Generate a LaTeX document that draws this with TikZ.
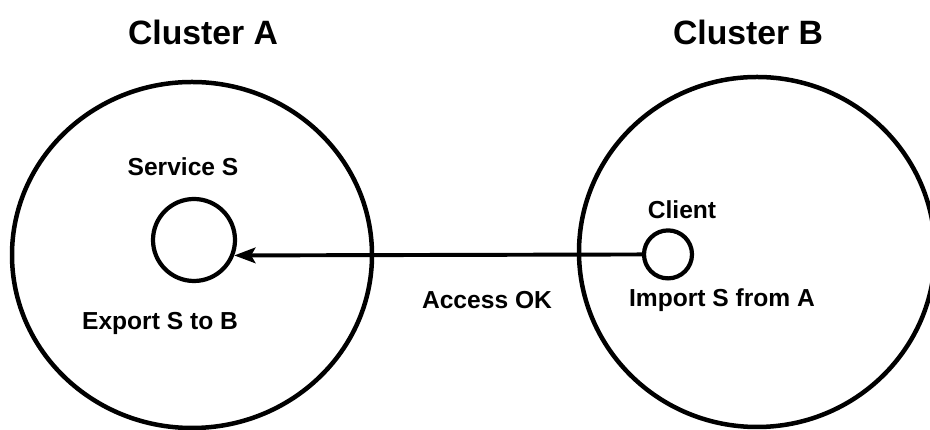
\documentclass[tikz,border=0pt]{standalone}
\usepackage{fontspec}
\setmainfont{Liberation Sans}
\usetikzlibrary{arrows.meta, shapes.geometric}

\begin{document}
\begin{tikzpicture}[
  cluster/.style={draw, ellipse, line width=3.2pt, inner sep=0pt},
  proc/.style={draw, circle, line width=3pt, inner sep=0pt},
  title/.style={font=\fontsize{24}{28}\selectfont\bfseries},
  lbl/.style={font=\fontsize{17.5}{20}\selectfont\bfseries},
  access/.style={line width=2.8pt, -{Stealth[length=15pt, width=11pt, inset=3pt]}}
]

  % Frame
  \useasboundingbox (0,0) rectangle (23.25,10.75);

  % Clusters
  \node[cluster, minimum width=9.0cm, minimum height=8.65cm] (clusterA) at (4.8,4.375) {};
  \node[cluster, minimum width=8.9cm, minimum height=8.75cm] (clusterB) at (18.925,4.45) {};
  \node[title] (titleA) at (5.075,9.95) {Cluster A};
  \node[title] (titleB) at (18.7,9.95) {Cluster B};

  % Service and client
  \node[proc, minimum size=2.05cm] (serviceS) at (4.85,4.75) {};
  \node[proc, minimum size=1.2cm] (client) at (16.7,4.39) {};

  % Labels
  \node[lbl] (serviceLbl) at (4.575,6.575) {Service S};
  \node[lbl] (exportLbl) at (4.0,2.675) {Export S to B};
  \node[lbl] (clientLbl) at (17.05,5.5) {Client};
  \node[lbl] (importLbl) at (18.05,3.25) {Import S from A};
  \node[lbl] (accessLbl) at (12.175,3.25) {Access OK};

  % Access
  \draw[access] (client) -- (serviceS.-21);

\end{tikzpicture}
\end{document}
